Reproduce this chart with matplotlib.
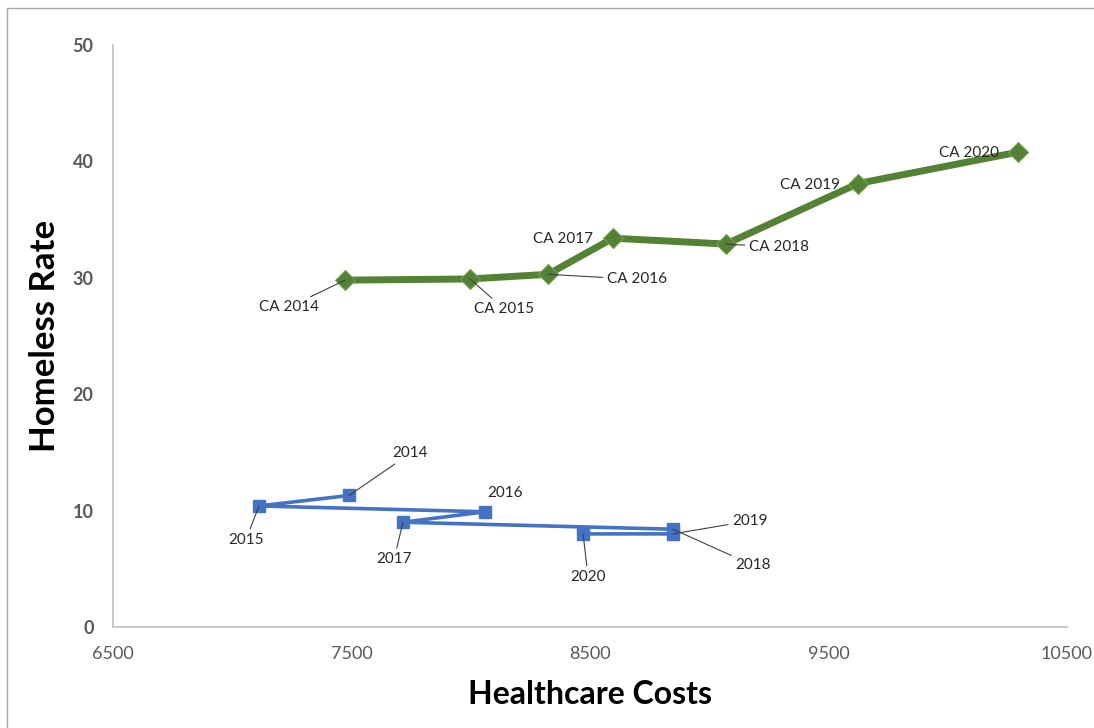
import matplotlib
matplotlib.use('Agg')

import matplotlib.pyplot as plt
from matplotlib.patches import Rectangle

plt.rcParams['font.family'] = ['Lato', 'DejaVu Sans']

# California series (diamonds)
ca_labels = ['CA 2014', 'CA 2015', 'CA 2016', 'CA 2017', 'CA 2018', 'CA 2019', 'CA 2020']
ca_cost = [7473, 7997, 8324, 8596, 9070, 9624, 10295]
ca_rate = [29.8, 29.9, 30.3, 33.4, 32.9, 38.1, 40.8]

# Other series (squares)
us_labels = ['2014', '2015', '2016', '2017', '2018', '2019', '2020']
us_cost = [7490, 7112, 8060, 7716, 8848, 8848, 8471]
us_rate = [11.3, 10.4, 9.9, 9.0, 8.4, 8.0, 8.0]

# label offsets in pixels (dx, dy) and whether a leader line is drawn
ca_offsets = [(-56, -27, True), (34, -30, True), (89, -5, True), (-50, -1, False),
              (53, -3, True), (-48, -1, False), (-49, -1, False)]
us_offsets = [(61, 42, True), (-13, -34, True), (20, 19, False), (-9, -37, True),
              (80, -36, True), (77, 13, True), (5, -43, True)]

GREEN = '#548235'
BLUE = '#4472C4'
GRAY = '#595959'
LABEL = '#404040'

fig = plt.figure(figsize=(10.94, 7.28), dpi=100)
ax = fig.add_axes([113 / 1094, 101 / 728, 954 / 1094, 582 / 728])

ax.plot(ca_cost, ca_rate, color=GREEN, lw=5, marker='D', markersize=10,
        markerfacecolor=GREEN, markeredgecolor='#70a050', markeredgewidth=0.8, zorder=3)
ax.plot(us_cost, us_rate, color=BLUE, lw=2.6, marker='s', markersize=8.5,
        markerfacecolor=BLUE, markeredgecolor=BLUE, zorder=3)


def add_labels(xs, ys, labels, offsets):
    for x, y, lab, (dx, dy, leader) in zip(xs, ys, labels, offsets):
        kw = {}
        if leader:
            kw['arrowprops'] = dict(arrowstyle='-', color=LABEL, lw=0.8,
                                    shrinkA=1, shrinkB=0)
        ax.annotate(lab, (x, y), xytext=(dx, dy), textcoords='offset pixels',
                    ha='center', va='center', fontsize=11, color='#262626',
                    zorder=4, **kw)


add_labels(ca_cost, ca_rate, ca_labels, ca_offsets)
add_labels(us_cost, us_rate, us_labels, us_offsets)

ax.set_xlim(6500, 10500)
ax.set_ylim(0, 50)
ax.set_xticks([6500, 7500, 8500, 9500, 10500])
ax.set_yticks([0, 10, 20, 30, 40, 50])

for side in ['top', 'right']:
    ax.spines[side].set_visible(False)
for side in ['left', 'bottom']:
    ax.spines[side].set_color('#bfbfbf')
    ax.spines[side].set_linewidth(1.2)

ax.tick_params(axis='both', length=0, colors=GRAY)
ax.tick_params(axis='y', pad=14, labelsize=13)
ax.tick_params(axis='x', pad=14, labelsize=13)
for t in ax.get_yticklabels():
    t.set_fontweight('bold')

ax.set_xlabel('Healthcare Costs', fontsize=23, fontweight='bold', color='black', labelpad=13)
ax.set_ylabel('Homeless Rate', fontsize=25, fontweight='bold', color='black', labelpad=8)

# chart border
fig.patches.append(Rectangle((7 / 1094, -0.05), 1.1, 720 / 728 + 0.05, transform=fig.transFigure,
                             fill=False, edgecolor='#a6a6a6', lw=1))

fig.savefig('out.png', dpi=100)
